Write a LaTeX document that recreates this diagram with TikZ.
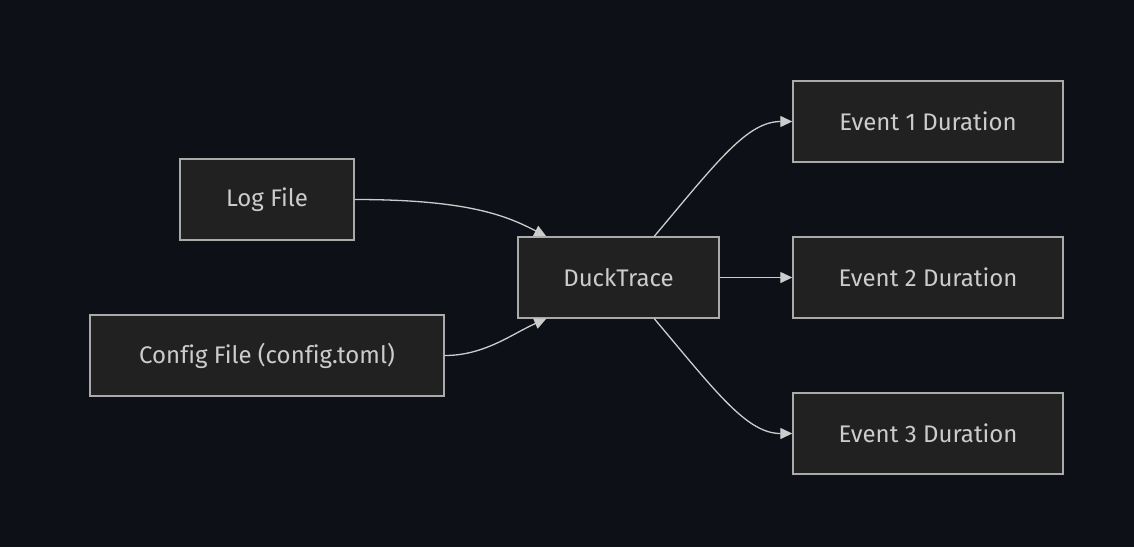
\documentclass[tikz,border=0pt]{standalone}
\usepackage{fontspec}
\setmainfont[Ligatures=NoCommon]{Fira Sans}
\usetikzlibrary{arrows.meta,calc}
\definecolor{bg}{HTML}{0D1117}
\definecolor{boxfill}{HTML}{212121}
\definecolor{boxline}{HTML}{AAAAAA}
\definecolor{txt}{HTML}{CCCCCC}
\definecolor{edge}{HTML}{CCCCCC}
\begin{document}
\begin{tikzpicture}[x=1pt,y=-1pt,
  box/.style={draw=boxline,fill=boxfill,line width=1.4pt,text=txt,font=\fontsize{24}{28}\selectfont,inner sep=0pt,anchor=center},
  conn/.style={draw=edge,line width=1.3pt,-{Triangle[length=12pt,width=11pt]}}]
\fill[bg] (0,0) rectangle (1134,547);
\useasboundingbox (0,0) rectangle (1134,547);
\node[box,minimum width=174pt,minimum height=81pt] (log) at (267,199.5) {Log File};
\node[box,minimum width=354pt,minimum height=81pt] (cfg) at (267,355.5) {Config File (config.toml)};
\node[box,minimum width=201pt,minimum height=81pt] (duck) at (618.5,277.5) {DuckTrace};
\node[box,minimum width=270pt,minimum height=81pt] (e1) at (928,121.5) {Event 1 Duration};
\node[box,minimum width=270pt,minimum height=81pt] (e2) at (928,277.5) {Event 2 Duration};
\node[box,minimum width=270pt,minimum height=81pt] (e3) at (928,433.5) {Event 3 Duration};
\draw[conn] (log.east) .. controls ($(log.east)+(115,0)$) and ($(duck.north west)+(-10,-20)$) .. ($(duck.north west)+(29,0)$);
\draw[conn] (cfg.east) .. controls ($(cfg.east)+(40,0)$) and ($(duck.south west)+(-5,15)$) .. ($(duck.south west)+(29,0)$);
\draw[conn] ($(duck.north west)+(137,0)$) .. controls ($(duck.north west)+(200,-75)$) and ($(e1.west)+(-45,0)$) .. (e1.west);
\draw[conn] (duck.east) -- (e2.west);
\draw[conn] ($(duck.south west)+(137,0)$) .. controls ($(duck.south west)+(200,75)$) and ($(e3.west)+(-45,0)$) .. (e3.west);
\end{tikzpicture}
\end{document}
